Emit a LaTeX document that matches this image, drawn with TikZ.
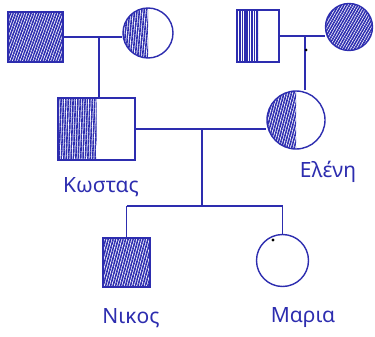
\documentclass[tikz,border=0pt]{standalone}
\usepackage{fontspec}
\setmainfont{Noto Sans}
\usetikzlibrary{patterns.meta}
\definecolor{ink}{RGB}{45,45,175}
\begin{document}
\begin{tikzpicture}[x=1pt,y=-1pt,
  pen/.style={draw=ink, line width=1.4pt},
  male/.style={pen, rectangle, inner sep=0pt},
  female/.style={pen, circle, inner sep=0pt},
  hatchfull/.style={path picture={\fill[pattern={Lines[angle=#1,distance=2.4pt,line width=1.6pt]}, pattern color=ink]
      (path picture bounding box.south west) rectangle (path picture bounding box.north east);}},
  hatchleft/.style={path picture={\fill[pattern={Lines[angle=#1,distance=2.4pt,line width=1.6pt]}, pattern color=ink]
      (path picture bounding box.south west) rectangle (path picture bounding box.north);}},
  lbl/.style={text=ink, font=\fontsize{21}{24}\selectfont, inner sep=0pt},
  inkdot/.style={fill=black}]
\useasboundingbox (0,0) rectangle (375,337);
% grandparents
\node[male, minimum width=55pt, minimum height=50pt, hatchfull=70] (tlsq) at (35.5,37) {};
\node[female, minimum size=50pt, hatchleft=85] (tlc) at (148,33) {};
\node[male, minimum width=42pt, minimum height=52pt, hatchleft=90] (trsq) at (258,36) {};
\node[female, minimum size=47pt, hatchfull=60] (trc) at (349,27) {};
% parents
\node[male, minimum width=77pt, minimum height=62pt, hatchleft=88] (kostas) at (96.5,129) {};
\node[female, minimum size=58pt, hatchleft=75] (eleni) at (296,120) {};
% children
\node[male, minimum width=47pt, minimum height=49pt, hatchfull=75] (nikos) at (126.5,262.5) {};
\node[female, minimum size=52pt] (maria) at (282.5,260.5) {};
% labels
\node[lbl] (lk) at (101,187) {Κωστας};
\node[lbl] (le) at (328,172) {Ελένη};
\node[lbl] (ln) at (131,318) {Νικος};
\node[lbl] (lm) at (303,318) {Μαρια};
% connectors
\coordinate (m1) at (99,36.5);
\coordinate (m2) at (305,36);
\coordinate (m3) at (202,130);
\coordinate (sib) at (202,206);
\draw[pen] (tlsq.east) -- (tlsq.east -| tlc.west);
\draw[pen] (m1) -- (m1 |- kostas.north);
\draw[pen] (trsq.east) -- (trsq.east -| trc.west);
\draw[pen] (m2) -- (m2 |- eleni.north);
\draw[pen] (kostas.east) -- (kostas.east -| eleni.west);
\draw[pen] (m3) -- (sib);
\draw[pen] (nikos.north |- sib) -- (maria.north |- sib);
\draw[pen] (nikos.north |- sib) -- (nikos.north);
\draw[pen] (maria.north |- sib) -- (maria.north);
% ink dots
\fill[inkdot] (306,50) circle (1.5);
\fill[inkdot] (273,240) circle (1.6);
\end{tikzpicture}
\end{document}
